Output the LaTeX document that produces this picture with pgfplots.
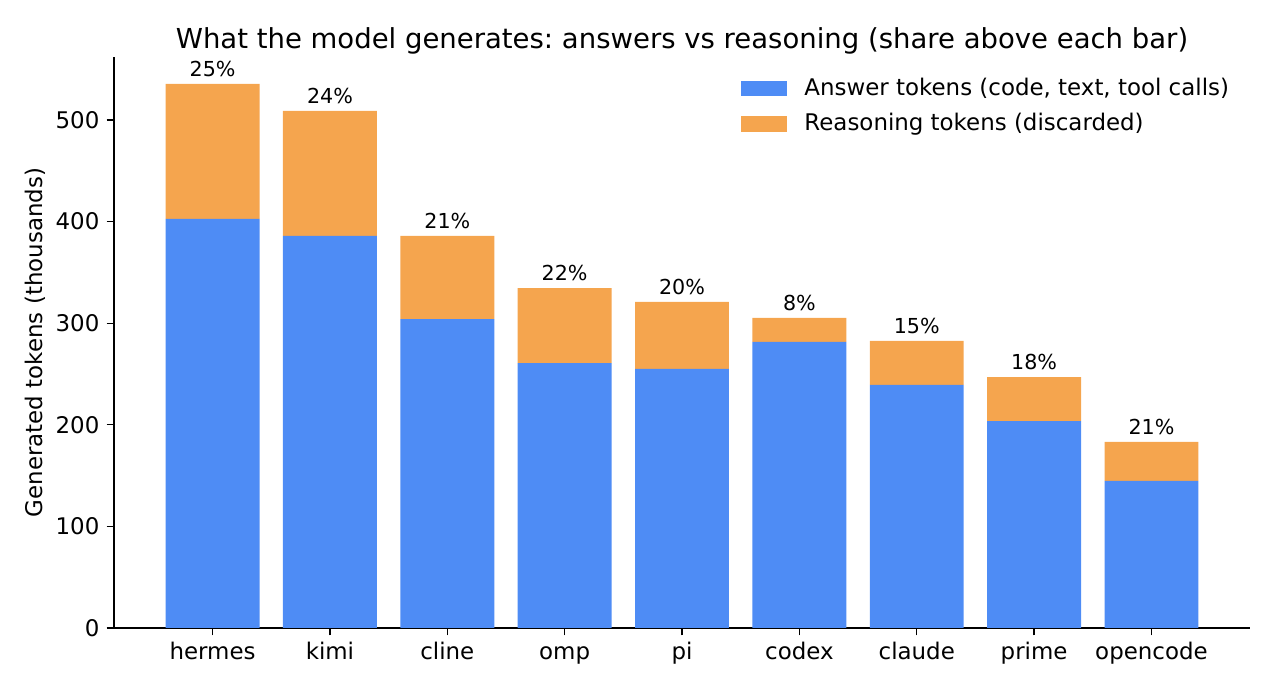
\documentclass[border=0pt]{standalone}
\usepackage{pgfplots}
\pgfplotsset{compat=1.18}
\usepackage{fontspec}
\setmainfont{DejaVu Sans}
\frenchspacing
\definecolor{answer}{HTML}{4E8CF5}
\definecolor{reason}{HTML}{F5A54E}
\begin{document}
\begin{tikzpicture}
\path[use as bounding box] (-54.72pt,-29.76pt) rectangle (557.28pt,301.44pt);
\begin{axis}[
    at={(0,0)}, anchor=south west,
    scale only axis,
    width=545.3pt, height=274.1pt,
    ybar stacked,
    bar width=0.8,
    bar shift=0pt,
    xmin=-0.84, xmax=8.84,
    ymin=0, ymax=562,
    xtick={0,...,8},
    xticklabels={hermes,kimi,cline,omp,pi,codex,claude,prime,opencode},
    ytick={0,100,200,300,400,500},
    axis x line*=bottom,
    axis y line*=left,
    axis line style={line width=0.6pt, black},
    tick style={line width=0.6pt, black},
    major tick length=3.5pt,
    tick align=outside,
    xtick pos=bottom, ytick pos=left,
    /pgf/number format/assume math mode=true,
    ticklabel style={font=\fontsize{11}{13}\selectfont},
    xticklabel style={text height=8pt, text depth=2.5pt},
    ylabel={Generated tokens (thousands)},
    ylabel style={font=\fontsize{11}{13}\selectfont, yshift=-2pt},
    title={What the model generates: answers vs reasoning (share above each bar)},
    title style={font=\fontsize{13.2}{15}\selectfont, yshift=-8pt},
    legend style={draw=none, fill=none, at={(0.991,0.978)}, anchor=north east,
        font=\fontsize{11}{13}\selectfont, row sep=3pt},
    legend cell align=left,
    legend image code/.code={\fill[#1] (0pt,-3.8pt) rectangle (22pt,3.8pt); \path (28.5pt,0pt);},
]
\addplot[fill=answer, draw=none] coordinates {
    (0,402.6) (1,385.8) (2,304.1) (3,260.8) (4,254.9)
    (5,281.5) (6,239.2) (7,203.7) (8,144.7)};
\addplot[fill=reason, draw=none] coordinates {
    (0,132.8) (1,123.1) (2,81.7) (3,73.8) (4,66.0)
    (5,23.6) (6,43.3) (7,43.3) (8,38.4)};
\addplot[draw=none, fill=none, forget plot,
    nodes near coords, point meta=explicit symbolic,
    every node near coord/.append style={font=\fontsize{9.9}{11}\selectfont, black, anchor=south, yshift=0pt}]
    table[meta=lab] {
x y lab
0 0.01 25\%
1 0.01 24\%
2 0.01 21\%
3 0.01 22\%
4 0.01 20\%
5 0.01 8\%
6 0.01 15\%
7 0.01 18\%
8 0.01 21\%
};
\legend{{Answer tokens (code, text, tool calls)}, {Reasoning tokens (discarded)}}
\end{axis}
\end{tikzpicture}
\end{document}
